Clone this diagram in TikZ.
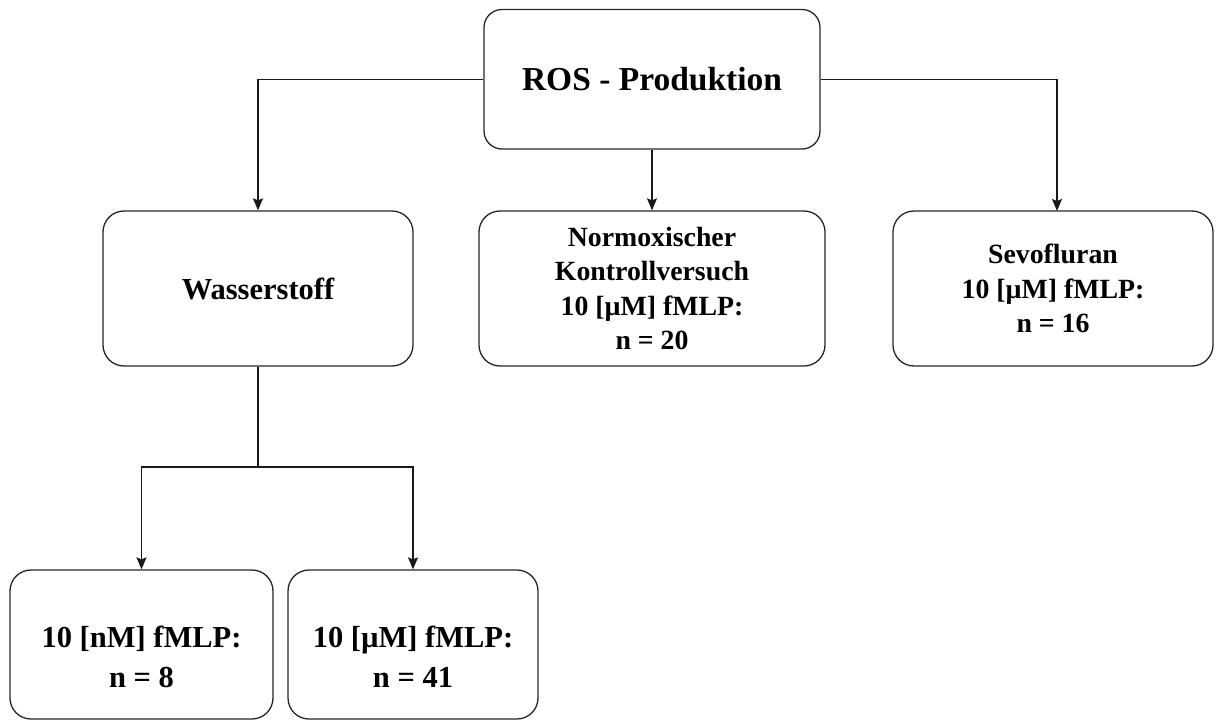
\documentclass[tikz,border=0pt]{standalone}
\usepackage{fontspec}
\setmainfont{Liberation Serif}
\usetikzlibrary{arrows.meta}
\begin{document}
\begin{tikzpicture}[x=1pt,y=-1pt,
  box/.style={draw=black!85, line width=1.3pt, rounded corners=21pt, inner sep=0pt, align=center},
  txt/.style={inner sep=0pt, align=center},
  link/.style={draw=black!90, line width=1.3pt},
  arr/.style={link, -{Stealth[length=12pt,width=10pt,inset=2pt]}},
  big/.style={font=\bfseries\fontsize{33.5}{40}\selectfont},
  mid/.style={font=\bfseries\fontsize{27.8}{34.5}\selectfont},
  low/.style={font=\bfseries\fontsize{30.5}{39.5}\selectfont}]
\useasboundingbox (0,0) rectangle (1216,720);

% top level
\node[box, rounded corners=18pt, minimum width=336pt, minimum height=139.5pt, big] (ros) at (652,79.25) {ROS - Produktion};

% second level
\node[box, minimum width=310pt, minimum height=155pt, low] (wass) at (258,288.5) {Wasserstoff};
\node[box, minimum width=346pt, minimum height=155pt, mid] (norm) at (652,288.5)
  {Normoxischer\\Kontrollversuch\\10 [µM] fMLP:\\n = 20};
\node[box, minimum width=320pt, minimum height=155pt, mid] (sevo) at (1053,288.5)
  {Sevofluran\\10 [µM] fMLP:\\n = 16};

% third level
\node[box, minimum width=263pt, minimum height=149pt] (nm) at (141.5,644.5) {};
\node[box, minimum width=250pt, minimum height=149pt] (um) at (413,644.5) {};
\node[txt, low] (nmtxt) at (141.5,657) {10 [nM] fMLP:\\n = 8};
\node[txt, low] (umtxt) at (413,657) {10 [µM] fMLP:\\n = 41};

% connectors
\coordinate (sevoin) at (1057,211);
\coordinate (split) at (258,467);
\draw[arr] (ros.west) -| (wass.north);
\draw[arr] (ros.east) -| (sevoin);
\draw[arr] (ros.south) -- (norm.north);
\draw[link] (wass.south) -- (split);
\draw[arr] (split) -| (nm.north);
\draw[arr] (split) -| (um.north);
\end{tikzpicture}
\end{document}
